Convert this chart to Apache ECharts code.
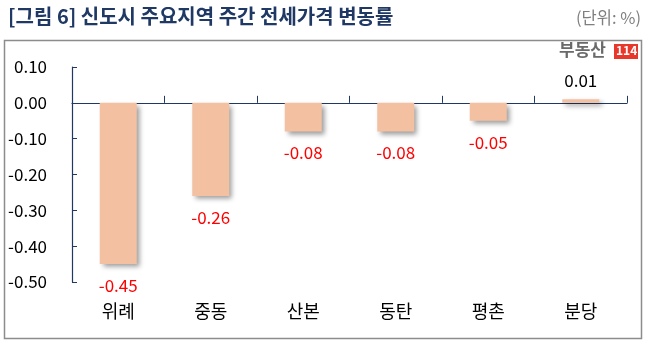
<!DOCTYPE html>
<html>
<head>
<meta charset="utf-8">
<script src="https://cdn.jsdelivr.net/npm/echarts@6/dist/echarts.min.js"></script>
<style>
  html, body { margin: 0; padding: 0; background: #fff; }
  #chart { width: 648px; height: 346px; }
</style>
</head>
<body>
<div id="chart"></div>
<script>
// 신도시 주요지역 주간 전세가격 변동률 (%)
const regions = ['위례', '중동', '산본', '동탄', '평촌', '분당'];
const changes = [-0.45, -0.26, -0.08, -0.08, -0.05, 0.01];
const yTicks = { min: -0.5, max: 0.1, step: 0.1 };

const FONT = '"Noto Sans CJK KR", "Noto Sans", sans-serif';
const NAVY = '#1F3864';
const BAR = '#F4C0A2';

const chart = echarts.init(document.getElementById('chart'), null, { renderer: 'canvas' });

const barData = changes.map(v => ({
  value: v,
  label: {
    position: v < 0 ? 'bottom' : 'top',
    distance: v < 0 ? 13 : 10,
    color: v < 0 ? '#FF0000' : '#000000'
  }
}));

chart.setOption({
  animation: false,
  textStyle: { fontFamily: FONT },
  graphic: [
    { type: 'text', left: 8, top: 6,
      style: { text: '[그림 6] 신도시 주요지역 주간 전세가격 변동률', font: 'bold 20px ' + FONT, fill: NAVY } },
    { type: 'text', right: 7, top: 9,
      style: { text: '(단위: %)', font: '16.5px ' + FONT, fill: '#7F7F7F' } },
    { type: 'rect', shape: { x: 4.5, y: 40.5, width: 637, height: 298 },
      style: { fill: 'none', stroke: '#8C8C8C', lineWidth: 1.5 }, z: -1 },
    { type: 'text', left: 559, top: 41,
      style: { text: '부동산', font: 'bold 17px ' + FONT, fill: '#6A6A6A' } },
    { type: 'rect', shape: { x: 614, y: 44, width: 24, height: 15 }, style: { fill: '#E8382C' } },
    { type: 'text', left: 616, top: 44.5,
      style: { text: '114', font: 'bold 12px ' + FONT, fill: '#FFFFFF' } }
  ],
  grid: { left: 72, right: 21, top: 67, bottom: 64, containLabel: false, outerBoundsMode: 'none' },
  xAxis: [
    {
      // category names along the bottom edge
      type: 'category',
      data: regions,
      position: 'bottom',
      axisLine: { show: false, onZero: false },
      axisTick: { show: false },
      axisLabel: { margin: 20, fontSize: 18, color: '#000', fontFamily: FONT }
    },
    {
      // baseline drawn through zero
      type: 'category',
      data: regions,
      position: 'bottom',
      axisLine: { show: true, onZero: true, lineStyle: { color: NAVY, width: 1.2 } },
      axisTick: { show: true, inside: true, length: 7, lineStyle: { color: NAVY } },
      axisLabel: { show: false }
    }
  ],
  yAxis: {
    type: 'value',
    min: yTicks.min, max: yTicks.max, interval: yTicks.step,
    splitLine: { show: false },
    axisLine: { show: true, lineStyle: { color: NAVY, width: 1.2 } },
    axisTick: { show: true, inside: true, length: 5, lineStyle: { color: NAVY } },
    axisLabel: { margin: 25, fontSize: 17, color: '#000', fontFamily: FONT,
      formatter: v => v.toFixed(2) }
  },
  series: [{
    type: 'bar',
    xAxisIndex: 0,
    data: barData,
    barWidth: 37,
    itemStyle: {
      color: BAR,
      shadowColor: 'rgba(0,0,0,0.4)',
      shadowBlur: 5,
      shadowOffsetX: 3,
      shadowOffsetY: 3
    },
    label: {
      show: true,
      fontSize: 17,
      fontFamily: FONT,
      formatter: p => p.value.toFixed(2)
    }
  }]
});
</script>
</body>
</html>
